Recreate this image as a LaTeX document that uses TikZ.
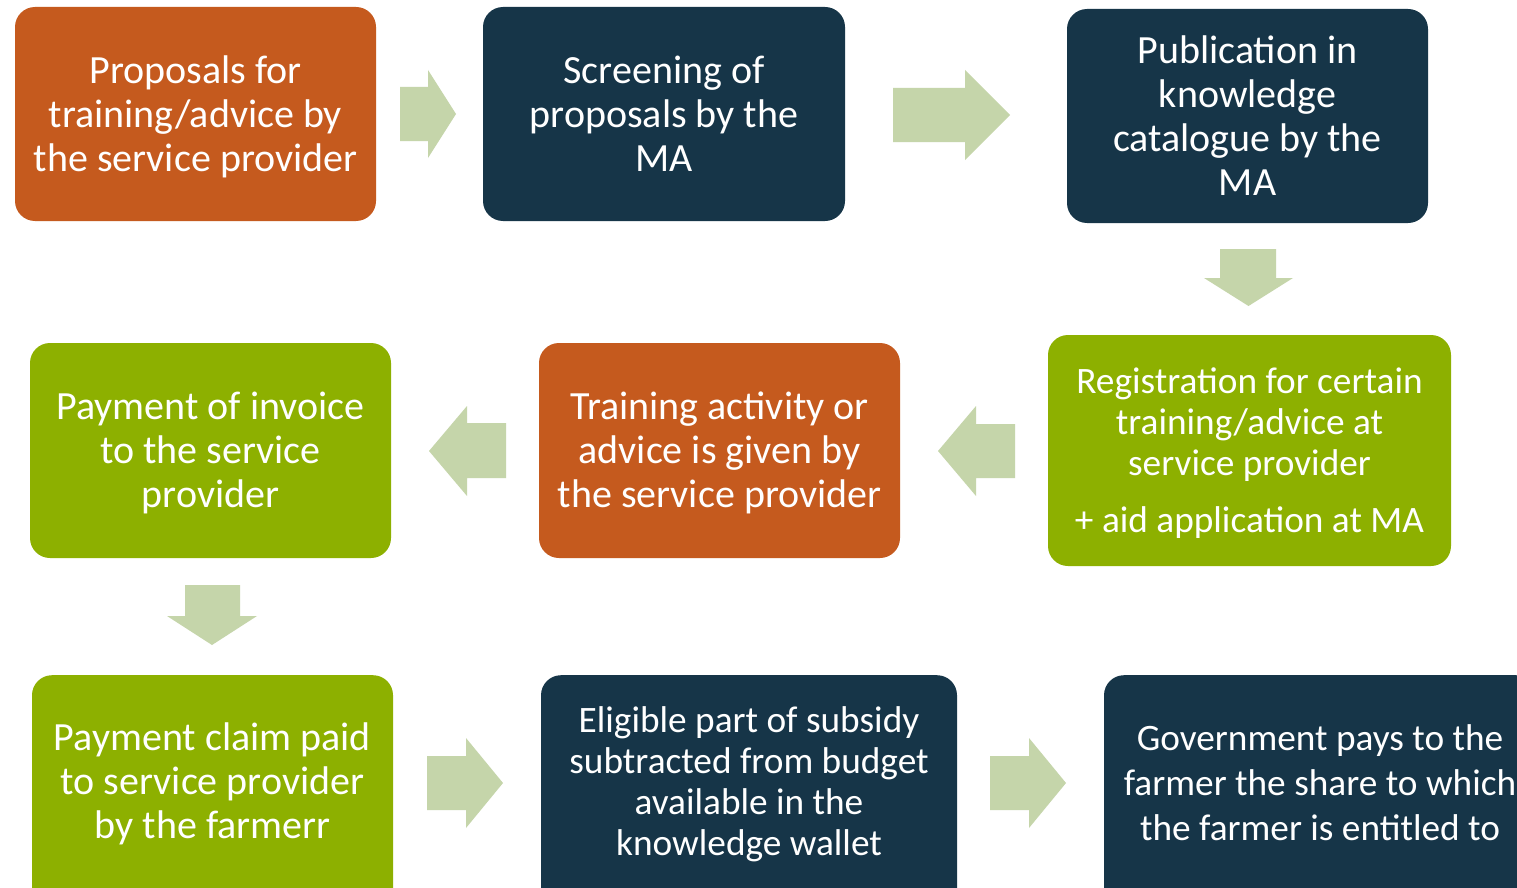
\documentclass[tikz,border=0pt]{standalone}
\usepackage{fontspec}
\setmainfont{Carlito}
\definecolor{cOrange}{HTML}{C55A1E}
\definecolor{cNavy}{HTML}{163548}
\definecolor{cGreen}{HTML}{8DB000}
\definecolor{cArrow}{HTML}{C5D5AA}
\begin{document}
\begin{tikzpicture}[x=1pt,y=-1pt,
  box/.style={rounded corners=20pt, inner sep=0pt},
  orangebox/.style={box, fill=cOrange},
  navybox/.style={box, fill=cNavy},
  greenbox/.style={box, fill=cGreen},
  boxtext/.style={text=white, align=center, inner sep=0pt, font=\fontsize{40}{44}\selectfont},
  smalltext/.style={boxtext, font=\fontsize{37.3}{41}\selectfont},
  blockarrow/.style={fill=cArrow, draw=none}]
\useasboundingbox (0,0) rectangle (1517,888);
\clip (0,0) rectangle (1517,888);
\fill[white] (0,0) rectangle (1517,888);
% row 1
\node[orangebox, minimum width=361pt, minimum height=214pt] (b1) at (195.5,114) {};
\node[boxtext] (t1) at (195.5,117) {Proposals for\\training/advice by\\the service provider};
\node[navybox, minimum width=362pt, minimum height=214pt] (b2) at (664,114) {};
\node[boxtext] (t2) at (664,114) {Screening of\\proposals by the\\MA};
\node[navybox, minimum width=361pt, minimum height=214pt] (b3) at (1247.5,116) {};
\node[boxtext] (t3) at (1247.5,115.5) {Publication in\\knowledge\\catalogue by the\\MA};
% row 2
\node[greenbox, minimum width=403pt, minimum height=231pt] (b4) at (1249.5,450.5) {};
\node[smalltext] (t4) at (1249.5,453) {Registration for certain\\training/advice at\\service provider\\[16pt]+ aid application at MA};
\node[orangebox, minimum width=361pt, minimum height=215pt] (b5) at (719.5,450.5) {};
\node[boxtext] (t5) at (719.5,453) {Training activity or\\advice is given by\\the service provider};
\node[greenbox, minimum width=361pt, minimum height=215pt] (b6) at (210.5,450.5) {};
\node[boxtext] (t6) at (210.5,453) {Payment of invoice\\to the service\\provider};
% row 3
\node[greenbox, minimum width=361pt, minimum height=250pt, anchor=north] (b7) at (212.5,675) {};
\node[boxtext] (t7) at (212.5,784) {Payment claim paid\\to service provider\\by the farmerr};
\node[navybox, minimum width=416pt, minimum height=250pt, anchor=north] (b8) at (749,675) {};
\node[smalltext] (t8) at (749,784) {Eligible part of subsidy\\subtracted from budget\\available in the\\knowledge wallet};
\node[navybox, minimum width=432pt, minimum height=250pt, anchor=north] (b9) at (1320,675) {};
\node[smalltext, font=\fontsize{37.3}{45}\selectfont] (t9) at (1320,783) {Government pays to the\\farmer the share to which\\the farmer is entitled to};
% block arrows
% b1 -> b2
\fill[blockarrow] (400,87) -- (428,87) -- (428,70) -- (456,114) -- (428,158) -- (428,141) -- (400,141) -- cycle;
% b2 -> b3
\fill[blockarrow] (893,88) -- (965,88) -- (965,70) -- (1010,115) -- (965,160) -- (965,142) -- (893,142) -- cycle;
% b3 -> b4
\fill[blockarrow] (1220,249) -- (1276,249) -- (1276,278) -- (1293,278) -- (1248.5,306) -- (1204,278) -- (1220,278) -- cycle;
% b4 -> b5
\fill[blockarrow] (1015,424) -- (976,424) -- (976,406) -- (938,451) -- (976,496) -- (976,478) -- (1015,478) -- cycle;
% b5 -> b6
\fill[blockarrow] (506,423) -- (467,423) -- (467,406) -- (429,451) -- (467,496) -- (467,478) -- (506,478) -- cycle;
% b6 -> b7
\fill[blockarrow] (185,585) -- (240,585) -- (240,616) -- (257,616) -- (212,645) -- (167,616) -- (185,616) -- cycle;
% b7 -> b8
\fill[blockarrow] (427,756) -- (466,756) -- (466,738) -- (503,783) -- (466,828) -- (466,810) -- (427,810) -- cycle;
% b8 -> b9
\fill[blockarrow] (990,756) -- (1029,756) -- (1029,738) -- (1066,783) -- (1029,828) -- (1029,810) -- (990,810) -- cycle;
\end{tikzpicture}
\end{document}
